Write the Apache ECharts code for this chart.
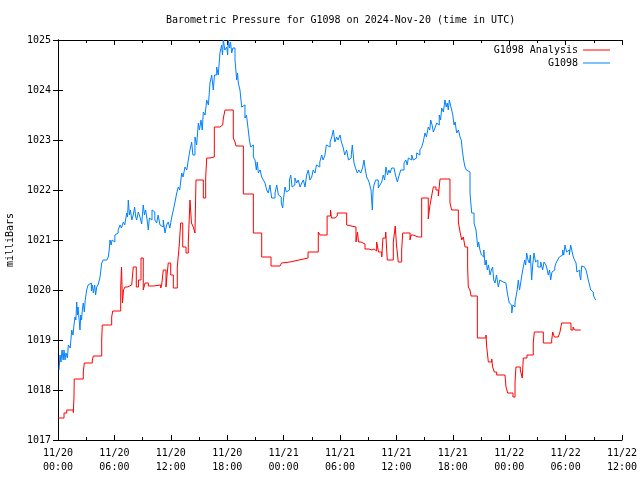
<!DOCTYPE html>
<html>
<head>
<meta charset="utf-8">
<script src="https://cdn.jsdelivr.net/npm/echarts@6/dist/echarts.min.js"></script>
<style>html,body{margin:0;padding:0;background:#fff;}#c{width:640px;height:480px;}</style>
</head>
<body>
<div id="c"></div>
<script>
var titleText = 'Barometric Pressure for G1098 on 2024-Nov-20 (time in UTC)';
var yAxisName = 'milliBars';
var xTickLabels = ['11/20\n00:00','11/20\n06:00','11/20\n12:00','11/20\n18:00','11/21\n00:00','11/21\n06:00','11/21\n12:00','11/21\n18:00','11/22\n00:00','11/22\n06:00','11/22\n12:00'];

// G1098 (observed): [hours since 11/20 00:00 UTC, mbar]
var stationReadings = [
[0.11,1018.4],[0.21,1018.7],[0.32,1018.56],[0.43,1018.8],[0.55,1018.6],[0.64,1018.8],[0.75,1018.6],[0.85,1018.74],[1.00,1018.64],[1.10,1018.9],
[1.30,1018.84],[1.46,1019.2],[1.60,1019.1],[1.70,1019.3],[1.81,1019.46],[1.90,1019.4],[1.99,1019.76],[2.07,1019.5],[2.13,1019.66],[2.25,1019.4],
[2.34,1019.2],[2.42,1019.5],[2.50,1019.4],[2.60,1019.62],[2.69,1019.74],[2.80,1019.56],[2.90,1019.8],[3.05,1020.0],[3.20,1020.1],[3.40,1020.14],
[3.55,1019.98],[3.66,1020.1],[3.76,1019.94],[3.90,1020.1],[4.00,1019.9],[4.12,1020.06],[4.30,1020.12],[4.47,1020.26],[4.65,1020.54],[4.80,1020.6],
[5.00,1020.6],[5.20,1020.6],[5.35,1020.66],[5.45,1020.8],[5.53,1021.0],[5.65,1020.9],[5.75,1021.0],[5.88,1020.96],[6.05,1021.1],[6.24,1021.14],
[6.40,1021.2],[6.60,1021.3],[6.75,1021.24],[6.95,1021.36],[7.10,1021.3],[7.31,1021.54],[7.40,1021.46],[7.48,1021.8],[7.60,1021.5],[7.71,1021.6],
[7.85,1021.4],[8.01,1021.5],[8.15,1021.66],[8.27,1021.46],[8.37,1021.4],[8.55,1021.56],[8.72,1021.46],[8.90,1021.32],[9.07,1021.7],[9.20,1021.5],
[9.32,1021.6],[9.44,1021.46],[9.61,1021.2],[9.72,1021.44],[9.84,1021.4],[10.00,1021.6],[10.14,1021.56],[10.30,1021.4],[10.50,1021.34],[10.65,1021.5],
[10.85,1021.3],[11.03,1021.26],[11.20,1021.4],[11.38,1021.14],[11.55,1021.3],[11.73,1021.36],[11.90,1021.24],[12.10,1021.46],[12.27,1021.6],[12.45,1021.76],
[12.63,1021.94],[12.80,1022.06],[12.95,1022.0],[13.16,1022.34],[13.30,1022.26],[13.51,1022.46],[13.70,1022.4],[13.86,1022.6],[14.04,1022.8],[14.22,1022.96],
[14.35,1022.7],[14.57,1023.06],[14.75,1022.9],[14.93,1023.34],[15.05,1023.2],[15.21,1023.4],[15.35,1023.2],[15.46,1023.56],[15.65,1023.5],[15.82,1023.8],
[16.00,1023.7],[16.17,1024.14],[16.35,1024.3],[16.52,1024.0],[16.65,1024.3],[16.88,1024.46],[17.05,1024.3],[17.23,1024.74],[17.41,1024.9],[17.50,1024.7],
[17.59,1025.0],[17.75,1024.8],[17.95,1024.86],[18.05,1024.7],[18.12,1025.0],[18.25,1024.84],[18.35,1024.96],[18.48,1024.74],[18.60,1024.84],[18.83,1024.6],
[18.92,1024.4],[19.01,1024.2],[19.10,1024.34],[19.18,1024.14],[19.36,1024.0],[19.54,1023.66],[19.70,1023.7],[19.89,1023.44],[20.05,1023.5],[20.24,1023.2],
[20.36,1023.0],[20.50,1022.86],[20.65,1022.9],[20.78,1022.66],[20.96,1022.6],[21.10,1022.4],[21.20,1022.56],[21.31,1022.34],[21.50,1022.4],[21.67,1022.26],
[21.85,1022.2],[22.02,1022.14],[22.20,1022.0],[22.37,1021.94],[22.55,1022.1],[22.73,1021.84],[22.90,1021.84],[23.09,1021.94],[23.27,1022.1],[23.45,1021.9],
[23.62,1021.86],[23.75,1021.74],[23.90,1021.64],[24.00,1021.84],[24.15,1022.06],[24.30,1021.96],[24.50,1022.0],[24.62,1022.2],[24.76,1022.3],[24.90,1022.06],
[25.03,1022.1],[25.20,1022.24],[25.39,1022.14],[25.56,1022.2],[25.75,1022.06],[25.93,1022.14],[26.10,1022.2],[26.28,1022.06],[26.45,1022.3],[26.63,1022.4],
[26.80,1022.2],[26.99,1022.26],[27.15,1022.4],[27.34,1022.34],[27.50,1022.5],[27.69,1022.46],[27.85,1022.56],[28.05,1022.7],[28.20,1022.6],[28.40,1022.7],
[28.55,1022.9],[28.76,1022.86],[28.95,1022.96],[29.12,1023.06],[29.29,1023.2],[29.45,1022.96],[29.65,1023.06],[29.80,1023.0],[30.00,1023.1],[30.15,1022.96],
[30.35,1022.84],[30.50,1022.7],[30.71,1022.8],[30.90,1022.6],[31.06,1022.64],[31.20,1022.7],[31.31,1022.9],[31.49,1022.54],[31.65,1022.44],[31.84,1022.34],
[32.00,1022.4],[32.20,1022.34],[32.40,1022.44],[32.55,1022.6],[32.70,1022.4],[32.84,1022.26],[33.00,1022.2],[33.12,1022.14],[33.30,1022.0],[33.44,1021.6],
[33.52,1022.0],[33.62,1022.1],[33.80,1022.2],[34.07,1022.04],[34.25,1022.1],[34.44,1022.16],[34.60,1022.3],[34.75,1022.2],[34.89,1022.46],[35.05,1022.3],
[35.20,1022.4],[35.32,1022.34],[35.50,1022.44],[35.74,1022.4],[35.90,1022.3],[36.10,1022.16],[36.30,1022.3],[36.46,1022.4],[36.60,1022.4],[36.81,1022.54],
[37.00,1022.6],[37.15,1022.5],[37.27,1022.64],[37.45,1022.6],[37.63,1022.7],[37.80,1022.6],[37.98,1022.64],[38.15,1022.74],[38.33,1022.7],[38.50,1022.8],
[38.69,1022.86],[38.85,1022.96],[39.04,1023.14],[39.20,1023.06],[39.39,1023.26],[39.55,1023.2],[39.65,1023.4],[39.80,1023.3],[39.93,1023.16],[40.10,1023.24],
[40.29,1023.34],[40.45,1023.3],[40.56,1023.5],[40.70,1023.4],[40.82,1023.64],[41.00,1023.56],[41.17,1023.8],[41.30,1023.66],[41.41,1023.74],[41.52,1023.6],
[41.63,1023.8],[41.75,1023.7],[41.88,1023.6],[42.00,1023.5],[42.13,1023.3],[42.25,1023.36],[42.41,1023.14],[42.60,1023.2],[42.77,1023.06],[42.90,1023.0],
[43.01,1022.8],[43.15,1022.6],[43.30,1022.46],[43.45,1022.4],[43.65,1022.36],[43.83,1021.94],[44.01,1021.54],[44.26,1021.34],[44.47,1021.2],[44.65,1020.86],
[44.75,1020.96],[44.89,1020.8],[45.05,1020.7],[45.18,1020.66],[45.30,1020.8],[45.43,1020.5],[45.55,1020.6],[45.67,1020.4],[45.80,1020.5],[45.96,1020.3],
[46.10,1020.4],[46.24,1020.46],[46.35,1020.2],[46.49,1020.14],[46.65,1020.3],[46.84,1020.06],[47.00,1020.2],[47.20,1020.16],[47.35,1020.2],[47.55,1020.14],
[47.65,1020.1],[47.80,1019.94],[47.90,1019.84],[48.01,1019.74],[48.15,1019.7],[48.27,1019.54],[48.40,1019.7],[48.51,1019.66],[48.62,1019.76],[48.72,1019.86],
[48.85,1020.0],[48.97,1020.2],[49.10,1020.0],[49.22,1020.14],[49.35,1020.3],[49.50,1020.46],[49.65,1020.6],[49.75,1020.5],[49.86,1020.74],[50.00,1020.6],
[50.14,1020.54],[50.25,1020.7],[50.39,1020.2],[50.50,1020.5],[50.64,1020.74],[50.80,1020.56],[50.93,1020.6],[51.05,1020.46],[51.20,1020.46],[51.35,1020.56],
[51.56,1020.4],[51.70,1020.56],[51.91,1020.5],[52.05,1020.4],[52.16,1020.3],[52.30,1020.4],[52.41,1020.2],[52.55,1020.36],[52.69,1020.4],[52.85,1020.46],
[52.98,1020.54],[53.15,1020.6],[53.33,1020.66],[53.50,1020.7],[53.69,1020.8],[53.80,1020.7],[53.94,1020.9],[54.10,1020.76],[54.29,1020.8],[54.40,1020.7],
[54.54,1020.9],[54.70,1020.76],[54.82,1020.66],[54.95,1020.6],[55.11,1020.54],[55.20,1020.36],[55.35,1020.4],[55.50,1020.3],[55.61,1020.2],[55.71,1020.48],
[55.85,1020.46],[56.00,1020.42],[56.17,1020.4],[56.30,1020.3],[56.41,1020.2],[56.55,1020.1],[56.67,1020.0],[56.80,1019.96],[56.95,1019.9],[57.08,1019.84],
[57.20,1019.8]
];

// G1098 Analysis (stepped)
var analysisHours = [0.03,0.64,0.93,1.63,1.70,1.73,2.69,2.80,3.65,3.76,4.65,4.71,5.71,5.82,6.67,6.76,6.86,6.97,7.13,7.37,7.84,8.01,8.33,8.56,8.83,9.07,9.26,9.61,10.14,10.93,11.03,11.20,11.49,11.60,11.73,11.99,12.27,12.69,12.90,13.05,13.27,13.62,13.86,14.04,14.20,14.39,14.57,14.68,15.46,15.71,15.82,16.17,16.63,17.23,17.52,17.59,17.77,18.65,18.83,18.94,19.72,20.78,21.67,22.66,23.62,23.78,23.88,24.68,25.64,26.60,27.69,27.87,28.63,28.99,29.09,29.47,29.71,30.71,30.85,31.70,31.86,31.97,32.23,32.39,32.66,33.09,33.40,33.62,33.90,34.10,34.44,34.57,34.86,35.03,35.67,35.88,36.01,36.20,36.56,36.67,37.45,37.55,37.77,38.33,38.69,39.39,39.54,39.75,39.93,40.21,40.46,40.64,41.70,41.88,42.59,42.77,42.95,43.12,43.30,43.58,43.65,43.83,43.94,44.61,45.53,45.61,45.78,46.14,46.24,46.41,46.67,47.55,47.66,47.84,48.40,48.62,48.72,49.18,49.39,49.50,49.89,50.11,50.32,50.56,50.67,51.63,52.52,52.63,52.80,53.22,53.40,53.58,54.57,54.79,54.95,55.61];
var analysisValues = [1017.44,1017.54,1017.6,1017.55,1017.86,1018.22,1018.36,1018.54,1018.6,1018.68,1019.0,1019.3,1019.46,1019.58,1020.04,1020.46,1019.74,1020.0,1020.06,1020.1,1020.14,1020.46,1020.06,1020.2,1020.64,1020.0,1020.14,1020.08,1020.1,1020.04,1020.1,1020.4,1020.06,1020.3,1020.54,1020.3,1020.04,1020.46,1020.9,1021.34,1020.86,1020.74,1020.94,1021.8,1021.34,1021.26,1021.14,1022.2,1021.84,1022.24,1022.64,1022.66,1023.26,1023.3,1023.26,1023.44,1023.6,1023.04,1022.96,1022.88,1021.92,1021.14,1020.66,1020.48,1020.5,1020.54,1020.56,1020.6,1020.64,1020.76,1021.16,1021.1,1021.48,1021.6,1021.44,1021.48,1021.54,1021.3,1021.26,1020.96,1021.16,1020.96,1021.0,1020.92,1020.82,1020.8,1020.82,1020.78,1020.96,1020.76,1020.66,1021.04,1021.16,1020.6,1020.96,1021.28,1020.9,1020.56,1020.8,1021.14,1021.0,1021.1,1021.06,1021.06,1021.84,1021.42,1021.66,1021.88,1022.06,1022.0,1021.88,1022.22,1021.74,1021.6,1021.36,1021.16,1021.0,1021.06,1020.86,1020.46,1020.06,1020.0,1019.88,1019.04,1019.1,1018.86,1018.56,1018.62,1018.46,1018.36,1018.3,1018.34,1018.06,1017.94,1017.86,1018.16,1018.46,1018.4,1018.24,1018.64,1018.7,1018.66,1018.7,1018.94,1019.16,1018.94,1019.0,1019.16,1019.06,1019.06,1019.16,1019.34,1019.2,1019.26,1019.2,1019.2];

function pairs(xs, ys) { var out = []; for (var i = 0; i < xs.length; i++) out.push([xs[i], ys[i]]); return out; }

var FONT = 'DejaVu Sans Mono';
var FS = 10;
var chart = echarts.init(document.getElementById('c'), null, {renderer: 'canvas'});
var tickCommon = {show: true, inside: true, length: 5, lineStyle: {color: '#000', width: 1}};
var minorCommon = {show: true, splitNumber: 2, length: 3, lineStyle: {color: '#000', width: 1}};
chart.setOption({
  animation: false,
  backgroundColor: '#fff',
  title: {text: titleText, left: 166, top: 15, padding: 0, textStyle: {fontFamily: FONT, fontSize: FS, fontWeight: 'normal', color: '#000'}},
  legend: {
    orient: 'vertical', right: 30, top: 45, padding: 0, align: 'right', icon: 'rect', itemWidth: 27, itemHeight: 1, itemGap: 3,
    textStyle: {fontFamily: FONT, fontSize: FS, color: '#000'},
    data: ['G1098 Analysis', 'G1098']
  },
  grid: {left: 58, right: 18, top: 40, bottom: 40, containLabel: false, outerBoundsMode: 'none'},
  xAxis: [{
    type: 'value', min: 0, max: 60, interval: 6, position: 'bottom',
    axisLine: {show: true, lineStyle: {color: '#000', width: 1}},
    axisTick: tickCommon, minorTick: minorCommon,
    splitLine: {show: false}, minorSplitLine: {show: false},
    axisLabel: {fontFamily: FONT, fontSize: FS, color: '#000', margin: 6, lineHeight: 14,
      formatter: function (v) { return xTickLabels[Math.round(v / 6)]; }}
  }, {
    type: 'value', min: 0, max: 60, interval: 6, position: 'top',
    axisLine: {show: true, lineStyle: {color: '#000', width: 1}},
    axisTick: tickCommon, minorTick: minorCommon,
    splitLine: {show: false}, axisLabel: {show: false}
  }],
  yAxis: [{
    type: 'value', min: 1017, max: 1025, interval: 1, position: 'left',
    name: yAxisName, nameLocation: 'middle', nameGap: 43, nameRotate: 90,
    nameTextStyle: {fontFamily: FONT, fontSize: FS, color: '#000'},
    axisLine: {show: true, lineStyle: {color: '#000', width: 1}},
    axisTick: tickCommon, splitLine: {show: false},
    axisLabel: {fontFamily: FONT, fontSize: FS, color: '#000', margin: 7, formatter: function (v) { return String(v); }}
  }, {
    type: 'value', min: 1017, max: 1025, interval: 1, position: 'right',
    axisLine: {show: true, lineStyle: {color: '#000', width: 1}},
    axisTick: tickCommon, splitLine: {show: false}, axisLabel: {show: false}
  }],
  series: [{
    name: 'G1098 Analysis', type: 'line', step: 'end', symbol: 'none',
    lineStyle: {color: '#ff0000', width: 1}, itemStyle: {color: '#ff0000'},
    data: pairs(analysisHours, analysisValues)
  }, {
    name: 'G1098', type: 'line', step: 'end', symbol: 'none',
    lineStyle: {color: '#0080ff', width: 1}, itemStyle: {color: '#0080ff'},
    data: stationReadings
  }]
});
</script>
</body>
</html>
